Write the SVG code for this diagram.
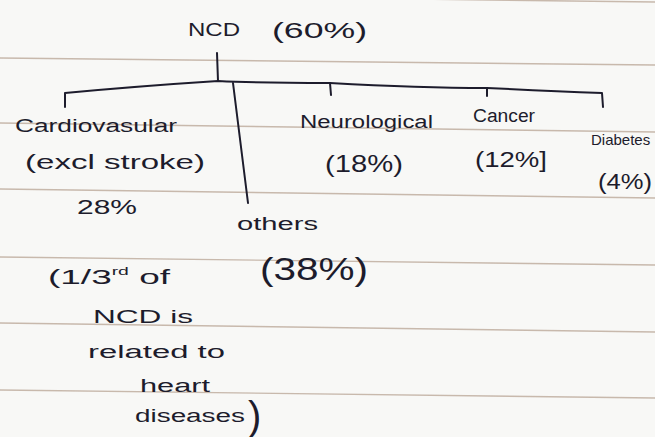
<svg xmlns="http://www.w3.org/2000/svg" width="655" height="437" viewBox="0 0 655 437">
<style>
.ink{fill:#1d1c2c;font-family:"Liberation Sans","DejaVu Sans",sans-serif;font-size:18px;}
.ln{stroke:#1d1c2c;stroke-width:2;fill:none;stroke-linecap:round;stroke-linejoin:round;}
.rule{stroke:#bca99a;stroke-width:1.4;fill:none;opacity:0.8;}
</style>
<rect width="655" height="437" fill="#f8f8f6"/>
<g id="ruled-paper">
<line class="rule" x1="0" y1="-6" x2="655" y2="2"/>
<line class="rule" x1="0" y1="58" x2="655" y2="65"/>
<line class="rule" x1="0" y1="123" x2="655" y2="132"/>
<line class="rule" x1="0" y1="189" x2="655" y2="198"/>
<line class="rule" x1="0" y1="257" x2="655" y2="265"/>
<line class="rule" x1="0" y1="323" x2="655" y2="332"/>
<line class="rule" x1="0" y1="390" x2="655" y2="398"/>
</g>
<g id="connectors">
<path class="ln" d="M217,53 L218,81"/>
<path class="ln" d="M65,107 L65,93 Q140,86 218,81 Q260,83 330,83 Q420,88 487,88 Q550,91 602,93 L603,107"/>
<path class="ln" d="M330,83 L331,95"/>
<path class="ln" d="M487,88 L487,96"/>
<path class="ln" d="M233,83 L248,203"/>
</g>
<g id="node-ncd">
<text class="ink" x="188" y="36" textLength="52" lengthAdjust="spacingAndGlyphs">NCD</text>
<text class="ink" x="272" y="38" textLength="95" lengthAdjust="spacingAndGlyphs" style="font-size:22px">(60%)</text>
</g>
<g id="node-cardiovascular">
<text class="ink" x="15" y="132" textLength="162" lengthAdjust="spacingAndGlyphs">Cardiovasular</text>
<text class="ink" x="25" y="169" textLength="180" lengthAdjust="spacingAndGlyphs" style="font-size:20px">(excl stroke)</text>
<text class="ink" x="77" y="214" textLength="60" lengthAdjust="spacingAndGlyphs" style="font-size:20px">28%</text>
</g>
<g id="node-note">
<text class="ink" x="48" y="284" textLength="122" lengthAdjust="spacingAndGlyphs" style="font-size:21px">(1/3<tspan style="font-size:11px" dy="-9">rd</tspan><tspan dy="9"> of</tspan></text>
<text class="ink" x="93" y="323" textLength="100" lengthAdjust="spacingAndGlyphs">NCD is</text>
<text class="ink" x="88" y="358" textLength="137" lengthAdjust="spacingAndGlyphs">related to</text>
<text class="ink" x="140" y="392" textLength="70" lengthAdjust="spacingAndGlyphs">heart</text>
<text class="ink" x="135" y="422" textLength="110" lengthAdjust="spacingAndGlyphs">diseases</text>
<text class="ink" x="248" y="430" style="font-size:40px">)</text>
</g>
<g id="node-others">
<text class="ink" x="237" y="230" textLength="81" lengthAdjust="spacingAndGlyphs">others</text>
<text class="ink" x="260" y="280" textLength="108" lengthAdjust="spacingAndGlyphs" style="font-size:32px">(38%)</text>
</g>
<g id="node-neurological">
<text class="ink" x="300" y="128" textLength="133" lengthAdjust="spacingAndGlyphs">Neurological</text>
<text class="ink" x="325" y="172" textLength="78" lengthAdjust="spacingAndGlyphs" style="font-size:24px">(18%)</text>
</g>
<g id="node-cancer">
<text class="ink" x="473" y="122" textLength="62" lengthAdjust="spacingAndGlyphs">Cancer</text>
<text class="ink" x="475" y="167" textLength="72" lengthAdjust="spacingAndGlyphs" style="font-size:22px">(12%]</text>
</g>
<g id="node-diabetes">
<text class="ink" x="591" y="145" style="font-size:15px">Diabetes</text>
<text class="ink" x="598" y="189" textLength="54" lengthAdjust="spacingAndGlyphs" style="font-size:22px">(4%)</text>
</g>
</svg>
